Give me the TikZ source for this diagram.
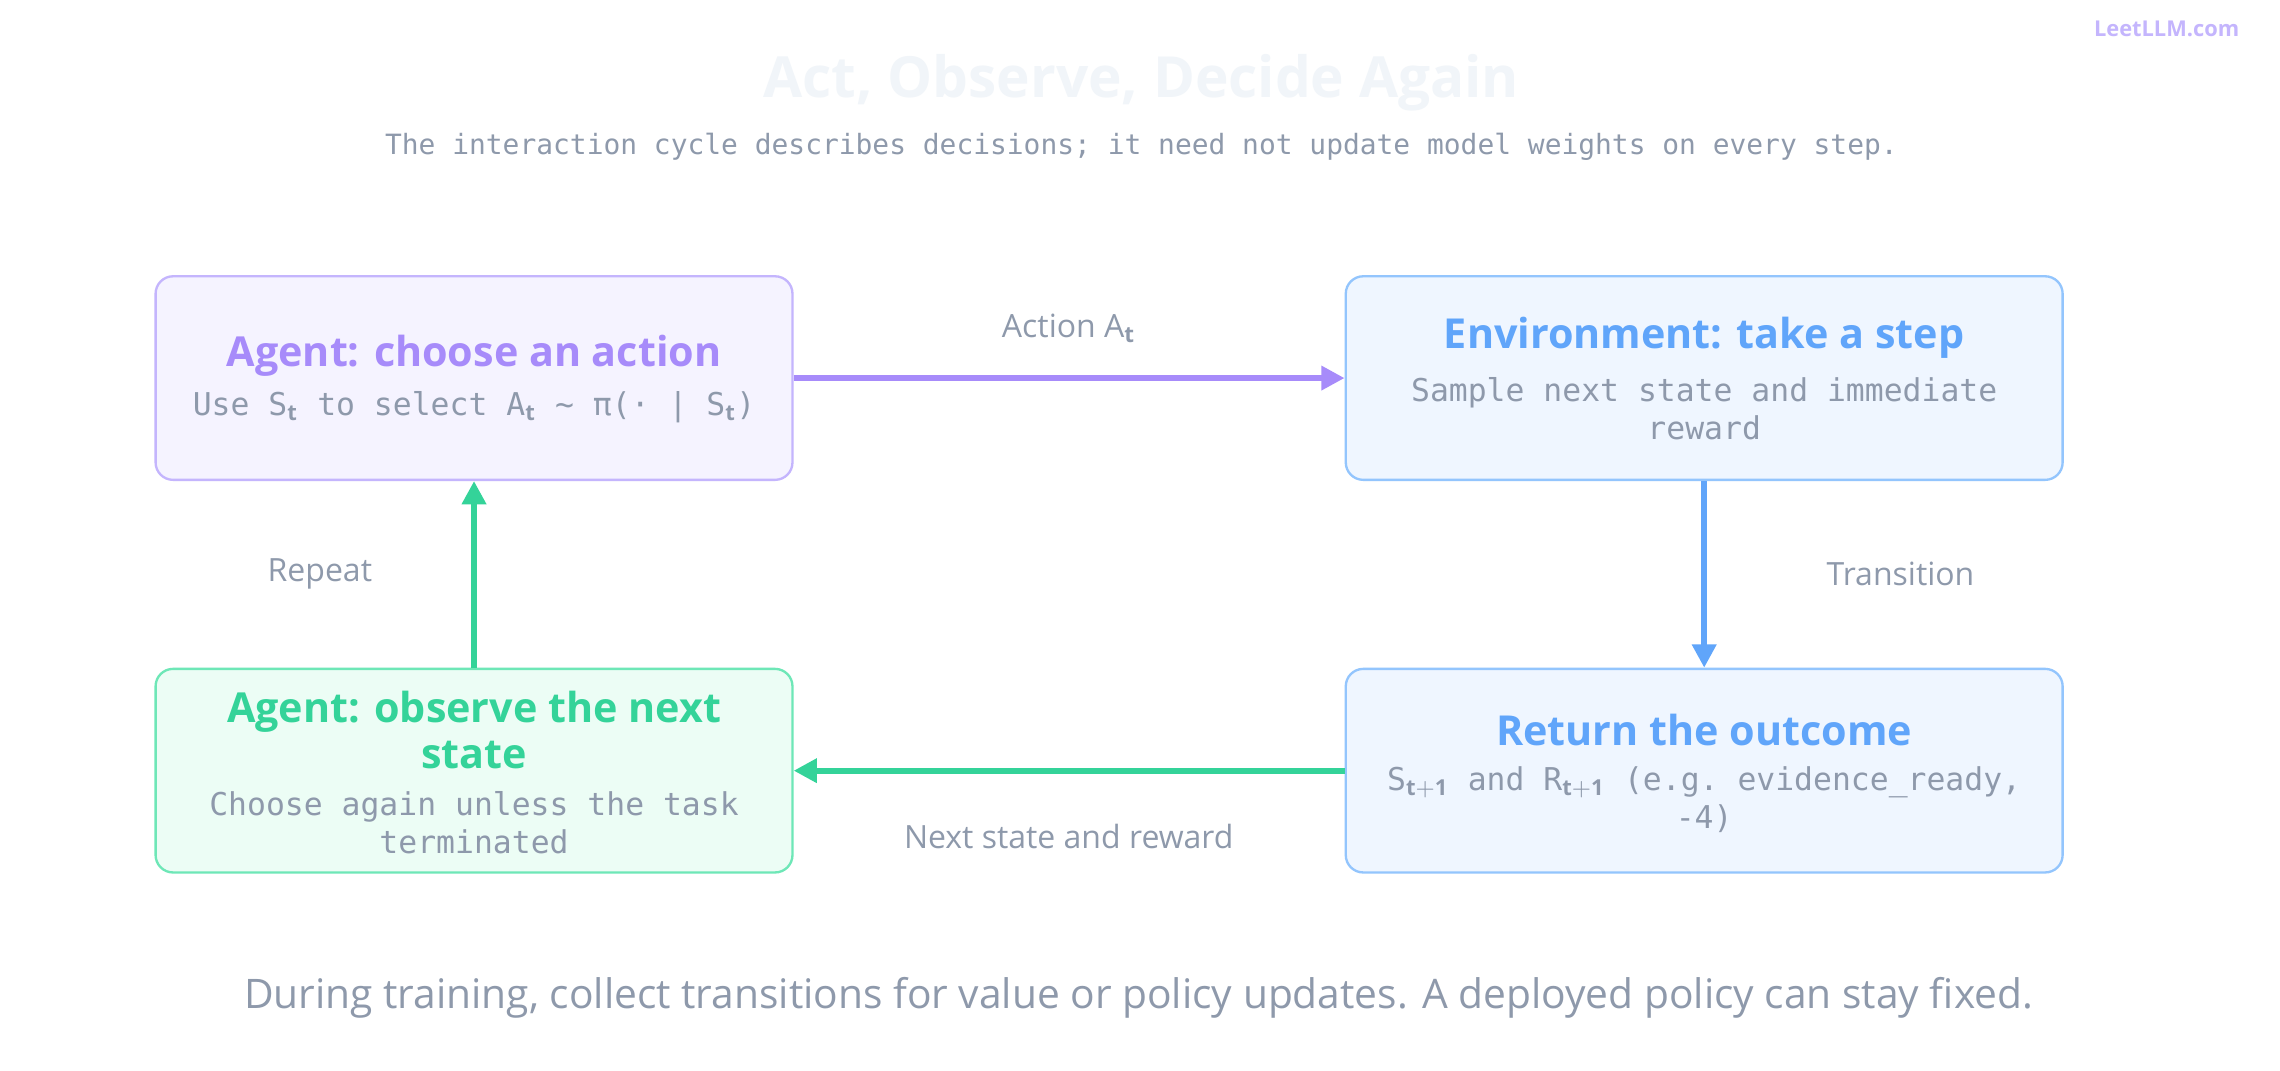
\documentclass[tikz,border=0pt]{standalone}
\usepackage{fontspec}
\setmainfont{Open Sans}
\setmonofont{DejaVu Sans Mono}
\usetikzlibrary{arrows.meta}
\definecolor{agentline}{HTML}{C4B5FD}
\definecolor{agentfill}{HTML}{F5F3FF}
\definecolor{agenttext}{HTML}{A78BFA}
\definecolor{envline}{HTML}{93C5FD}
\definecolor{envfill}{HTML}{EFF6FF}
\definecolor{envtext}{HTML}{60A5FA}
\definecolor{obsline}{HTML}{6EE7B7}
\definecolor{obsfill}{HTML}{ECFDF5}
\definecolor{obstext}{HTML}{34D399}
\definecolor{greytext}{HTML}{8E99AB}
\definecolor{faint}{HTML}{F1F5F9}
\tikzset{
  box/.style={draw, rounded corners=6pt, line width=0.8pt, align=center},
  head/.style={font=\bfseries\fontsize{14.2}{16}\selectfont},
  sub/.style={font=\ttfamily\fontsize{10.8}{13}\selectfont, text=greytext},
  lbl/.style={font=\fontsize{11}{13}\selectfont, text=greytext},
  flow/.style={line width=2pt, -{Triangle[length=8pt,width=8pt]}}
}
\begin{document}
\begin{tikzpicture}[x=0.5pt,y=0.5pt]
    % page frame
    \useasboundingbox[fill=white] (0,0) rectangle (1568,736);

    % header
    \node[font=\bfseries\fontsize{19.5}{22}\selectfont, text=faint] (title) at (785,679) {Act, Observe, Decide Again};
    \node[font=\ttfamily\fontsize{9.6}{12}\selectfont, text=greytext] (subtitle) at (785,635) {The interaction cycle describes decisions; it need not update model weights on every step.};
    \node[font=\bfseries\fontsize{7.5}{9}\selectfont, text=agentline] (brand) at (1490,716) {LeetLLM.com};

    % boxes
    \node[box, draw=agentline, fill=agentfill, minimum width=219, minimum height=70] (choose) at (326,476) {};
    \node[head, text=agenttext] at (326,491) {Agent: choose an action};
    \node[sub] at (326,456) {Use S$_{\mathbf t}$ to select A$_{\mathbf t}$ \textasciitilde{} π(· | S$_{\mathbf t}$)};

    \node[box, draw=envline, fill=envfill, minimum width=246.5, minimum height=70] (env) at (1172,476) {};
    \node[head, text=envtext] at (1172,504) {Environment: take a step};
    \node[sub, align=center] at (1172,455) {Sample next state and immediate\\reward};

    \node[box, draw=envline, fill=envfill, minimum width=246.5, minimum height=70] (outcome) at (1172,206) {};
    \node[head, text=envtext] at (1172,234) {Return the outcome};
    \node[sub, align=center] at (1172,186) {S$_{\mathbf{t+1}}$ and R$_{\mathbf{t+1}}$ (e.g. evidence\_ready,\\-4)};

    \node[box, draw=obsline, fill=obsfill, minimum width=219, minimum height=70] (observe) at (326,206) {};
    \node[head, text=obstext, align=center] at (326,234) {Agent: observe the next\\state};
    \node[sub, align=center] at (326,170) {Choose again unless the task\\terminated};

    % connectors
    \draw[flow, draw=agenttext, fill=agenttext] (choose.east) -- (env.west);
    \draw[flow, draw=envtext, fill=envtext] (env.south) -- (outcome.north);
    \draw[flow, draw=obstext, fill=obstext] (outcome.west) -- (observe.east);
    \draw[flow, draw=obstext, fill=obstext] (observe.north) -- (choose.south);

    % connector labels
    \node[lbl] (lact) at (735,510) {Action A$_{\mathbf t}$};
    \node[lbl] (ltrans) at (1307,341) {Transition};
    \node[lbl] (lnext) at (735,161) {Next state and reward};
    \node[lbl] (lrep) at (220,341) {Repeat};

    % footer
    \node[font=\fontsize{14}{16}\selectfont, text=greytext] (footer) at (783,50) {During training, collect transitions for value or policy updates. A deployed policy can stay fixed.};
\end{tikzpicture}
\end{document}
